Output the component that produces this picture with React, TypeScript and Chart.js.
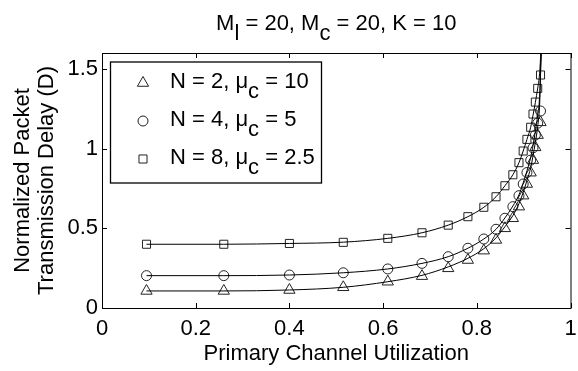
import React, { useEffect, useRef } from "react";
import { Chart, registerables } from "chart.js";

Chart.register(...registerables);

const FONT = "'Liberation Sans', Arial, Helvetica, sans-serif";

// ---- text ----
type Part = { t: string; sub?: boolean };
const titleParts: Part[] = [
  { t: "M" }, { t: "l", sub: true }, { t: " = 20, M" }, { t: "c", sub: true }, { t: " = 20, K = 10" },
];
const xAxisLabel = "Primary Channel Utilization";
const yAxisLabelLines = ["Normalized Packet", "Transmission Delay (D)"];
const legendN2: Part[] = [{ t: "N = 2, \u03bc" }, { t: "c", sub: true }, { t: " = 10" }];
const legendN4: Part[] = [{ t: "N = 4, \u03bc" }, { t: "c", sub: true }, { t: " = 5" }];
const legendN8: Part[] = [{ t: "N = 8, \u03bc" }, { t: "c", sub: true }, { t: " = 2.5" }];

// ---- ticks ----
const xTicks = [0, 0.2, 0.4, 0.6, 0.8, 1];
const yTicks = [0, 0.5, 1, 1.5];
const xMin = 0, xMax = 1, yMin = 0, yMax = 1.6;

// ---- simulation points (markers) ----
const simUtil = [0.095, 0.26, 0.4, 0.515, 0.61, 0.683, 0.739, 0.781, 0.815, 0.841, 0.86, 0.877, 0.89, 0.899, 0.907, 0.915, 0.92, 0.925, 0.93, 0.936];
const simN2 = [0.107, 0.107, 0.113, 0.13, 0.165, 0.2, 0.249, 0.301, 0.36, 0.427, 0.5, 0.563, 0.636, 0.705, 0.778, 0.849, 0.928, 1.008, 1.085, 1.165];
const simN4 = [0.203, 0.203, 0.207, 0.221, 0.245, 0.28, 0.322, 0.375, 0.433, 0.494, 0.563, 0.636, 0.705, 0.778, 0.85, 0.928, 1.005, 1.085, 1.16, 1.236];
const simN8 = [0.4, 0.4, 0.405, 0.412, 0.437, 0.472, 0.52, 0.573, 0.632, 0.698, 0.767, 0.836, 0.912, 0.985, 1.058, 1.134, 1.217, 1.292, 1.378, 1.462];

// ---- analytical curves (lines) ----
const curveUtil = [0.095, 0.26, 0.4, 0.515, 0.61, 0.683, 0.739, 0.781, 0.815, 0.841, 0.86, 0.877, 0.89, 0.899, 0.907, 0.915, 0.92, 0.925, 0.93, 0.934, 0.937, 0.94];
const curveN2 = [0.107, 0.107, 0.113, 0.13, 0.165, 0.205, 0.258, 0.312, 0.372, 0.44, 0.51, 0.58, 0.655, 0.725, 0.8, 0.88, 0.955, 1.04, 1.14, 1.27, 1.55, 1.75];
const curveN4 = [0.203, 0.203, 0.207, 0.221, 0.245, 0.28, 0.322, 0.375, 0.433, 0.494, 0.565, 0.64, 0.71, 0.785, 0.86, 0.945, 1.02, 1.11, 1.21, 1.32, 1.57, 1.75];
const curveN8 = [0.4, 0.4, 0.405, 0.413, 0.437, 0.472, 0.52, 0.573, 0.632, 0.698, 0.767, 0.836, 0.912, 0.985, 1.058, 1.134, 1.21, 1.29, 1.38, 1.47, 1.62, 1.78];

const W = 578, H = 371;
const FS = 22;
const SUB_SHIFT = 10;

function pts(xs: number[], ys: number[]) {
  return xs.map((x, i) => ({ x, y: ys[i] }));
}

function richWidth(ctx: CanvasRenderingContext2D, parts: Part[]) {
  ctx.font = `${FS}px ${FONT}`;
  return parts.reduce((w, p) => w + ctx.measureText(p.t).width, 0);
}
function drawRich(ctx: CanvasRenderingContext2D, parts: Part[], x: number, baseline: number) {
  ctx.font = `${FS}px ${FONT}`;
  ctx.textAlign = "left";
  ctx.textBaseline = "alphabetic";
  let cx = x;
  for (const p of parts) {
    ctx.fillText(p.t, cx, p.sub ? baseline + SUB_SHIFT : baseline);
    cx += ctx.measureText(p.t).width;
  }
}

function drawMarker(ctx: CanvasRenderingContext2D, kind: string, x: number, y: number) {
  ctx.beginPath();
  if (kind === "triangle") {
    const r = 6.5;
    for (let k = 0; k < 3; k++) {
      const a = (k * 2 * Math.PI) / 3;
      const px = x + Math.sin(a) * r, py = y - Math.cos(a) * r;
      if (k === 0) ctx.moveTo(px, py); else ctx.lineTo(px, py);
    }
    ctx.closePath();
  } else if (kind === "circle") {
    ctx.arc(x, y, 5, 0, Math.PI * 2);
  } else {
    const s = 5.7 * Math.SQRT1_2;
    ctx.rect(x - s, y - s, 2 * s, 2 * s);
  }
  ctx.stroke();
}

const legendItems = [
  { parts: legendN2, marker: "triangle" },
  { parts: legendN4, marker: "circle" },
  { parts: legendN8, marker: "rect" },
];

const decoPlugin = {
  id: "deco",
  afterDraw(chart: any) {
    const ctx: CanvasRenderingContext2D = chart.ctx;
    const a = chart.chartArea;
    const xs = chart.scales.x, ys = chart.scales.y;
    ctx.save();
    ctx.strokeStyle = "#000";
    ctx.fillStyle = "#000";
    ctx.lineWidth = 1;
    const T = 5;
    ctx.beginPath();
    for (const v of xTicks) {
      const px = Math.round(xs.getPixelForValue(v)) + 0.5;
      ctx.moveTo(px, a.bottom); ctx.lineTo(px, a.bottom - T);
      ctx.moveTo(px, a.top); ctx.lineTo(px, a.top + T);
    }
    for (const v of yTicks) {
      const py = Math.round(ys.getPixelForValue(v)) + 0.5;
      ctx.moveTo(a.left, py); ctx.lineTo(a.left + T, py);
      ctx.moveTo(a.right, py); ctx.lineTo(a.right - T, py);
    }
    ctx.stroke();
    ctx.strokeRect(a.left + 0.5, a.top + 0.5, a.right - a.left, a.bottom - a.top);

    // legend box
    const lx = a.left + 8, ly = a.top + 8.5, lw = 211, lh = 121;
    ctx.fillStyle = "#fff";
    ctx.fillRect(lx, ly, lw, lh);
    ctx.lineWidth = 1.3;
    ctx.strokeRect(lx + 0.5, ly + 0.5, lw, lh);
    ctx.lineWidth = 1;
    ctx.strokeStyle = "#222";
    ctx.fillStyle = "#000";
    legendItems.forEach((it, i) => {
      const cy = ly + 21.5 + i * 38;
      drawMarker(ctx, it.marker, lx + 33, cy);
      drawRich(ctx, it.parts, lx + 60, cy + 5);
    });

    // title
    const tw = richWidth(ctx, titleParts);
    drawRich(ctx, titleParts, (a.left + a.right) / 2 - tw / 2, 29.5);

    // x axis label
    ctx.font = `${FS}px ${FONT}`;
    ctx.textAlign = "center";
    ctx.textBaseline = "alphabetic";
    ctx.fillText(xAxisLabel, (a.left + a.right) / 2, 360);

    // y axis label
    const cyMid = (a.top + a.bottom) / 2;
    yAxisLabelLines.forEach((line, i) => {
      ctx.save();
      ctx.translate(29 + i * 24, cyMid);
      ctx.rotate(-Math.PI / 2);
      ctx.fillText(line, 0, 0);
      ctx.restore();
    });
    ctx.restore();
  },
};

export default function App() {
  const ref = useRef<HTMLCanvasElement>(null);
  useEffect(() => {
    document.body.style.margin = "0";
    const canvas = ref.current!;
    const lineDs = (data: number[]) => ({
      type: "line" as const,
      data: pts(curveUtil, data),
      showLine: true,
      borderColor: "#000",
      borderWidth: 1,
      pointRadius: 0,
      fill: false,
      cubicInterpolationMode: "monotone" as const,
    });
    const markDs = (data: number[], style: string, r: number) => ({
      type: "scatter" as const,
      data: pts(simUtil, data),
      showLine: false,
      pointStyle: style,
      pointRadius: r,
      pointBorderColor: "#222",
      pointBackgroundColor: "rgba(0,0,0,0)",
      pointBorderWidth: 1,
    });
    const chart = new Chart(canvas, {
      type: "scatter",
      data: {
        datasets: [
          lineDs(curveN2),
          lineDs(curveN4),
          lineDs(curveN8),
          markDs(simN2, "triangle", 6.5),
          markDs(simN4, "circle", 5),
          markDs(simN8, "rect", 5.7),
        ] as any,
      },
      options: {
        responsive: false,
        animation: false,
        devicePixelRatio: 1,
        layout: { padding: { top: 53, right: 1, left: 0, bottom: 0 } },
        plugins: { legend: { display: false }, title: { display: false }, tooltip: { enabled: false } },
        scales: {
          x: {
            type: "linear",
            min: xMin,
            max: xMax,
            grid: { display: false, drawTicks: false },
            border: { display: false },
            ticks: {
              padding: 8,
              color: "#000",
              font: { family: FONT, size: FS },
              maxRotation: 0,
              callback: (v: any) => String(v),
            },
            afterBuildTicks: (s: any) => { s.ticks = xTicks.map((v) => ({ value: v })); },
            afterFit: (s: any) => { s.height = H - 308; s.paddingLeft = 0; s.paddingRight = 0; },
          },
          y: {
            type: "linear",
            min: yMin,
            max: yMax,
            grid: { display: false, drawTicks: false },
            border: { display: false },
            ticks: {
              padding: 4,
              color: "#000",
              font: { family: FONT, size: FS },
              callback: (v: any) => String(v),
            },
            afterBuildTicks: (s: any) => { s.ticks = yTicks.map((v) => ({ value: v })); },
            afterFit: (s: any) => { s.width = 102; s.paddingTop = 0; s.paddingBottom = 0; },
          },
        },
      } as any,
      plugins: [decoPlugin],
    });
    return () => chart.destroy();
  }, []);
  return <canvas ref={ref} width={W} height={H} style={{ display: "block" }} />;
}
